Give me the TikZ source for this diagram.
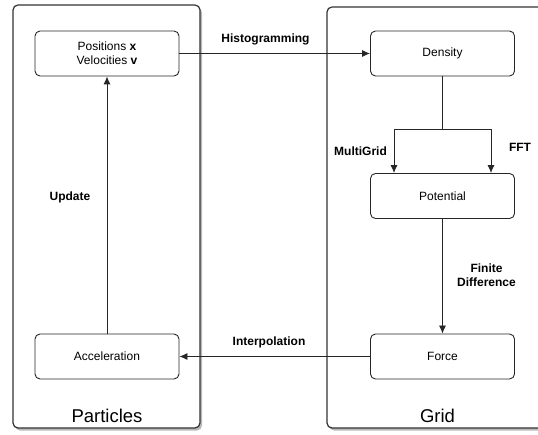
\documentclass[tikz,border=0pt]{standalone}
\usepackage{fontspec}
\setmainfont{Liberation Sans}
\usetikzlibrary{positioning, shadows, arrows.meta}

\tikzset{
  panel/.style={draw=black!80, line width=1.2pt, rounded corners=5pt, fill=white,
    drop shadow={shadow xshift=2pt, shadow yshift=-2.5pt, opacity=0.55}},
  stage/.style={draw=black!85, line width=0.9pt, rounded corners=5pt, fill=white,
    minimum width=144pt, minimum height=45pt, align=center,
    font=\fontsize{12}{14}\selectfont},
  flow/.style={draw=black!85, line width=0.9pt, -{Latex[length=8pt, width=7pt]}},
  tag/.style={font=\fontsize{12}{14}\selectfont\bfseries, align=center},
  title/.style={font=\fontsize{18.5}{20}\selectfont}
}

\begin{document}
\begin{tikzpicture}[x=1pt, y=-1pt]
  \useasboundingbox (0,0) rectangle (538,435);
  \clip (0,0) rectangle (538,435);

  % containers
  \draw[panel] (13,5) rectangle (200,428);
  \draw[panel] (327,7) rectangle (570,428);

  % particle side
  \node[stage] (pos) at (107,53.5) {Positions \textbf{x}\\Velocities \textbf{v}};
  \node[stage] (acc) at (107,356.5) {Acceleration};

  % grid side
  \node[stage] (dens) at (442.5,53.5) {Density};
  \node[stage] (pot)  at (442.5,196) {Potential};
  \node[stage] (force) at (442.5,356.5) {Force};

  % panel titles
  \node[title] (ptitle) at (107,416) {Particles};
  \node[title] (gtitle) at (437.5,416) {Grid};

  % connectors
  \draw[flow] (pos.east) -- (dens.west);
  \draw[flow] (acc.north) -- (pos.south);
  \draw[flow] (pot.south) -- (force.north);
  \draw[flow] (force.west) -- (acc.east);

  % split into the two solvers
  \coordinate (split) at (442.5,129);
  \draw[draw=black!85, line width=0.9pt] (dens.south) -- (split);
  \draw[flow] (split) -| ([xshift=-48.5pt]pot.north);
  \draw[flow] (split) -| ([xshift=48.5pt]pot.north);

  % labels
  \node[tag] (lhist) at (265.5,39) {Histogramming};
  \node[tag] (lupd) at (70,197) {Update};
  \node[tag] (lmg) at (360.5,151) {MultiGrid};
  \node[tag] (lfft) at (520,147) {FFT};
  \node[tag] (lfd) at (486.5,275.5) {Finite\\Difference};
  \node[tag] (lint) at (269,342) {Interpolation};
\end{tikzpicture}
\end{document}
